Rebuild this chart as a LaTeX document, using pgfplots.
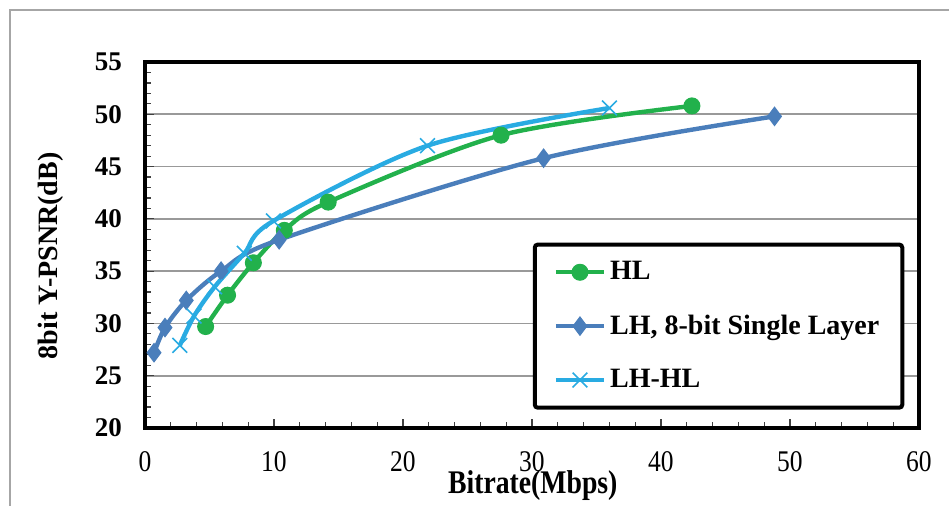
\documentclass[border=0pt]{standalone}
\usepackage{pgfplots}
\pgfplotsset{compat=1.18}
\usepackage{fontspec}
\setmainfont{Liberation Serif}
\newfontfamily\narrowfont[FakeStretch=0.85]{Liberation Serif}
\newfontfamily\xlabfont[FakeStretch=0.84]{Liberation Serif}
\definecolor{cHL}{RGB}{34,177,76}
\definecolor{cLH}{RGB}{74,126,187}
\definecolor{cLHHL}{RGB}{41,171,226}
\begin{document}
\begin{tikzpicture}
\path[use as bounding box] (0,0) rectangle (474.5pt,253pt);
\draw[gray!70, line width=0.8pt] (5pt,-2pt) -- (5pt,248pt) -- (480pt,248pt);
\begin{axis}[
  at={(72.5pt,39pt)}, anchor=south west,
  scale only axis, width=387pt, height=183pt,
  xmin=0, xmax=60, ymin=20, ymax=55,
  xtick={0,10,...,60}, ytick={20,25,...,55},
  minor x tick num=4, minor y tick num=4,
  tick pos=left, tick align=inside,
  major tick length=4.5pt, minor tick length=3pt,
  every tick/.style={black!75, line width=0.6pt},
  ymajorgrids,
  major grid style={gray!80, line width=0.8pt},
  axis line style={line width=1.8pt},
  /pgf/number format/assume math mode=true,
  yticklabel style={font=\bfseries\fontsize{13.5}{14}\selectfont, xshift=-8pt},
  xticklabel style={font=\narrowfont\fontsize{15}{16}\selectfont, yshift=-8pt},
  xlabel={Bitrate(Mbps)},
  ylabel={8bit Y-PSNR(dB)},
  xlabel style={font=\xlabfont\bfseries\fontsize{16.5}{17}\selectfont, at={(axis description cs:0.501,0)}, anchor=center, yshift=-29pt},
  ylabel style={font=\bfseries\fontsize{14}{15}\selectfont, at={(axis description cs:0,0.47)}, anchor=center, yshift=47pt},
  legend style={at={(axis description cs:0.501,0.05)}, anchor=south west,
    draw=black, line width=2pt, rounded corners=1.5pt,
    font=\bfseries\fontsize{14}{15}\selectfont,
    row sep=12pt, inner xsep=9.5pt, inner ysep=6.5pt},
  legend cell align=left,
  legend image code/.code={\draw[mark repeat=2,mark phase=2] plot coordinates {(0pt,0pt)(12pt,0pt)(24pt,0pt)};},
]
\addplot[color=cHL, line width=2.2pt, smooth, mark=*, mark size=4pt, mark options={fill=cHL, line width=0.5pt}]
  coordinates {(4.7,29.7) (6.4,32.7) (8.4,35.8) (10.8,38.9) (14.2,41.6) (27.6,48.0) (42.4,50.8)};
\addlegendentry{HL}
\addplot[color=cLH, line width=2.2pt, smooth, mark=diamond*, mark size=4.6pt, mark options={fill=cLH, line width=0.5pt}]
  coordinates {(0.7,27.2) (1.55,29.6) (3.2,32.2) (5.9,35.0) (10.4,38.0) (30.9,45.8) (48.8,49.8)};
\addlegendentry{LH, 8-bit Single Layer}
\addplot[color=cLHHL, line width=2.2pt, smooth, mark=x, mark size=5.2pt, mark options={line width=0.8pt}]
  coordinates {(2.7,27.9) (3.8,30.7) (5.4,33.5) (7.7,36.7) (9.95,39.8) (21.9,47.0) (36.0,50.6)};
\addlegendentry{LH-HL}
\end{axis}
\end{tikzpicture}
\end{document}
